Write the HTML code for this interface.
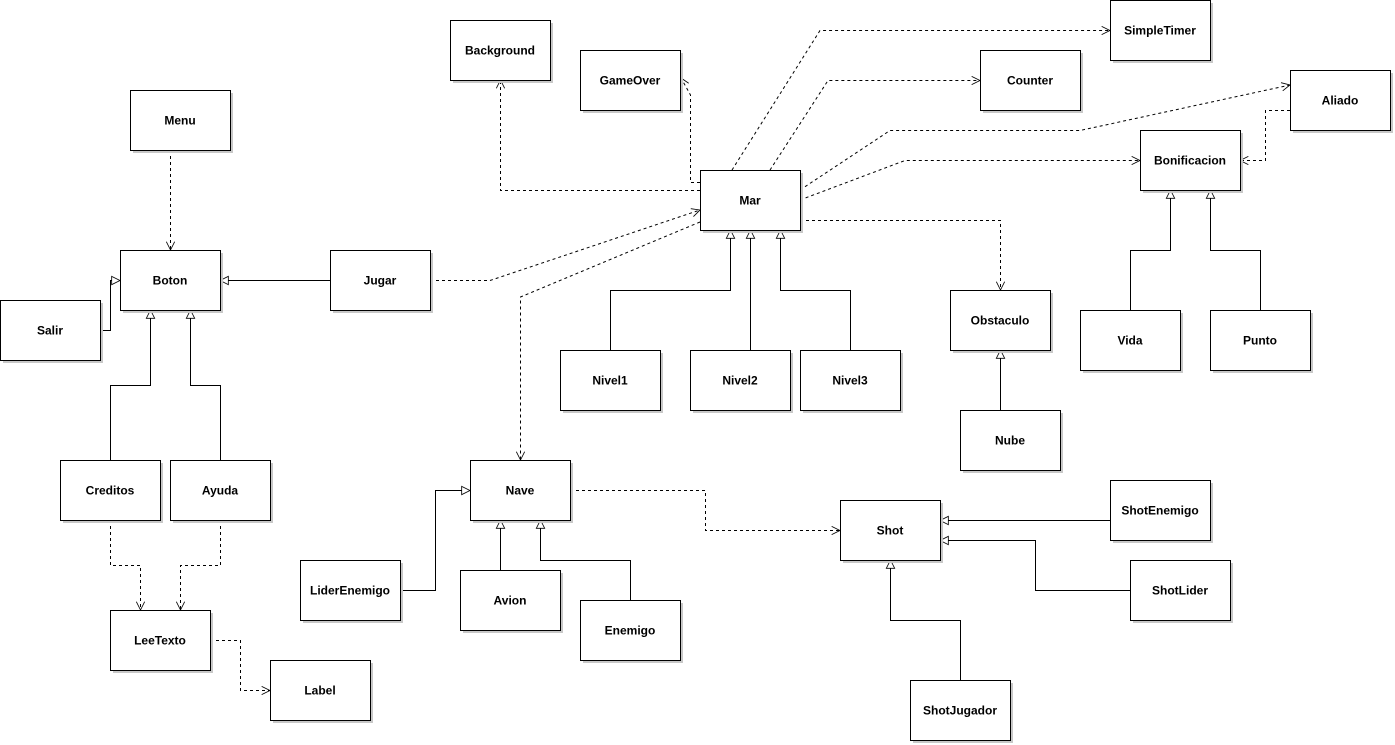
<!DOCTYPE html>
<html><head><meta charset="utf-8"><style>
html,body{margin:0;padding:0;background:#fff;}
svg{display:block;}
text{font-family:"Liberation Sans",sans-serif;font-weight:bold;font-size:12px;text-anchor:middle;dominant-baseline:central;}
</style></head><body>
<svg width="1395" height="745" viewBox="0 0 1395 745">
<defs>
<marker id="tri" viewBox="0 0 12 12" refX="11" refY="6" markerWidth="10" markerHeight="10" markerUnits="userSpaceOnUse" orient="auto"><path d="M1,1 L11,6 L1,11 Z" fill="#fff" stroke="#000" stroke-width="1"/></marker>
<marker id="arr" viewBox="0 0 12 12" refX="11" refY="6" markerWidth="10" markerHeight="10" markerUnits="userSpaceOnUse" orient="auto"><path d="M1,1 L11,6 L1,11" fill="none" stroke="#000" stroke-width="1"/></marker>
<g id="sh"><rect x="3" y="3" width="100" height="60" fill="#c8c8c8"/><rect x="0.5" y="0.5" width="100" height="60" fill="#fff" stroke="#000"/></g>
</defs>
<g fill="none" stroke="#000" stroke-width="1">
<g stroke-dasharray="3,3" marker-end="url(#arr)">
<polyline points="170.5,150 170.5,250"/>
<polyline points="110.5,520 110.5,565.5 140.5,565.5 140.5,610"/>
<polyline points="220.5,520 220.5,565.5 180.5,565.5 180.5,610"/>
<polyline points="210,640.5 240.5,640.5 240.5,690.5 270,690.5"/>
<polyline points="430,280.5 490,280.5 700,210"/>
<polyline points="700,222 520.5,297 520.5,460"/>
<polyline points="700,190.5 500.5,190.5 500.5,80"/>
<polyline points="700,182.5 690.5,182.5 690.5,95 681,78"/>
<polyline points="732,170 820,30.5 1110,30.5"/>
<polyline points="770,170 828,80.5 980,80.5"/>
<polyline points="800,190 890,130.5 1080,130.5 1290,85"/>
<polyline points="800,200 905,160.5 1140,160.5"/>
<polyline points="1290,110.5 1265.5,110.5 1265.5,160.5 1240,160.5"/>
<polyline points="800,220.5 1000.5,220.5 1000.5,290"/>
<polyline points="570,490.5 705.5,490.5 705.5,530.5 840,530.5"/>
</g>
<g marker-end="url(#tri)">
<polyline points="100,330.5 110.5,330.5 110.5,280.5 120,280.5"/>
<polyline points="330,280.5 220,280.5"/>
<polyline points="110.5,460 110.5,385.5 150.5,385.5 150.5,310"/>
<polyline points="220.5,460 220.5,385.5 190.5,385.5 190.5,310"/>
<polyline points="610.5,350 610.5,290.5 730.5,290.5 730.5,230"/>
<polyline points="750.5,350 750.5,230"/>
<polyline points="850.5,350 850.5,290.5 780.5,290.5 780.5,230"/>
<polyline points="1130.5,310 1130.5,250.5 1170.5,250.5 1170.5,190"/>
<polyline points="1260.5,310 1260.5,250.5 1210.5,250.5 1210.5,190"/>
<polyline points="1000.5,410 1000.5,350"/>
<polyline points="400,590.5 435.5,590.5 435.5,490.5 470,490.5"/>
<polyline points="500.5,570 500.5,520"/>
<polyline points="630.5,600 630.5,560.5 540.5,560.5 540.5,520"/>
<polyline points="1110,520.5 940,520.5"/>
<polyline points="1130,590.5 1035.5,590.5 1035.5,540.5 940,540.5"/>
<polyline points="960.5,680 960.5,620.5 890.5,620.5 890.5,560"/>
</g>
</g>
<use href="#sh" x="450" y="20"/><text x="500" y="50.5">Background</text>
<use href="#sh" x="580" y="50"/><text x="630" y="80.5">GameOver</text>
<use href="#sh" x="1110" y="0"/><text x="1160" y="30.5">SimpleTimer</text>
<use href="#sh" x="980" y="50"/><text x="1030" y="80.5">Counter</text>
<use href="#sh" x="1290" y="70"/><text x="1340" y="100.5">Aliado</text>
<use href="#sh" x="1140" y="130"/><text x="1190" y="160.5">Bonificacion</text>
<use href="#sh" x="130" y="90"/><text x="180" y="120.5">Menu</text>
<use href="#sh" x="700" y="170"/><text x="750" y="200.5">Mar</text>
<use href="#sh" x="120" y="250"/><text x="170" y="280.5">Boton</text>
<use href="#sh" x="330" y="250"/><text x="380" y="280.5">Jugar</text>
<use href="#sh" x="0" y="300"/><text x="50" y="330.5">Salir</text>
<use href="#sh" x="950" y="290"/><text x="1000" y="320.5">Obstaculo</text>
<use href="#sh" x="1080" y="310"/><text x="1130" y="340.5">Vida</text>
<use href="#sh" x="1210" y="310"/><text x="1260" y="340.5">Punto</text>
<use href="#sh" x="560" y="350"/><text x="610" y="380.5">Nivel1</text>
<use href="#sh" x="690" y="350"/><text x="740" y="380.5">Nivel2</text>
<use href="#sh" x="800" y="350"/><text x="850" y="380.5">Nivel3</text>
<use href="#sh" x="960" y="410"/><text x="1010" y="440.5">Nube</text>
<use href="#sh" x="60" y="460"/><text x="110" y="490.5">Creditos</text>
<use href="#sh" x="170" y="460"/><text x="220" y="490.5">Ayuda</text>
<use href="#sh" x="470" y="460"/><text x="520" y="490.5">Nave</text>
<use href="#sh" x="840" y="500"/><text x="890" y="530.5">Shot</text>
<use href="#sh" x="1110" y="480"/><text x="1160" y="510.5">ShotEnemigo</text>
<use href="#sh" x="1130" y="560"/><text x="1180" y="590.5">ShotLider</text>
<use href="#sh" x="300" y="560"/><text x="350" y="590.5">LiderEnemigo</text>
<use href="#sh" x="460" y="570"/><text x="510" y="600.5">Avion</text>
<use href="#sh" x="580" y="600"/><text x="630" y="630.5">Enemigo</text>
<use href="#sh" x="110" y="610"/><text x="160" y="640.5">LeeTexto</text>
<use href="#sh" x="270" y="660"/><text x="320" y="690.5">Label</text>
<use href="#sh" x="910" y="680"/><text x="960" y="710.5">ShotJugador</text>
</svg>
</body></html>
